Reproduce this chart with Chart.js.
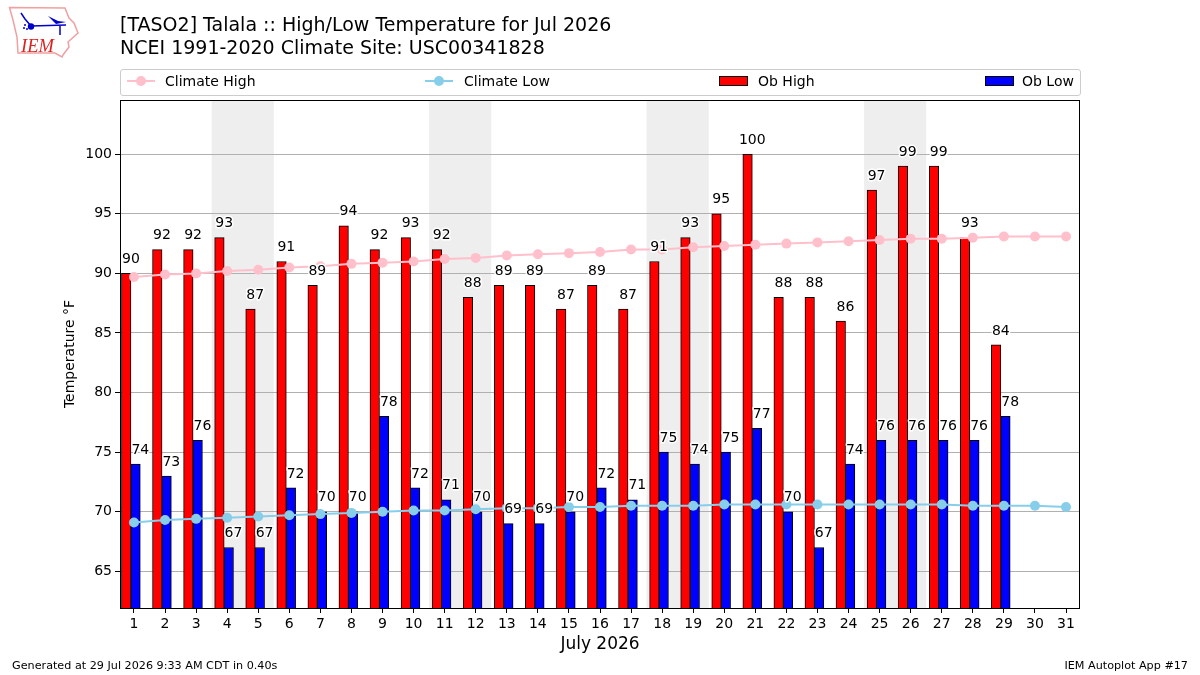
<!DOCTYPE html>
<html>
<head>
<meta charset="utf-8">
<title>TASO2 High/Low Temperature</title>
<script src="https://cdn.jsdelivr.net/npm/chart.js@4"></script>
<style>
    html, body { margin: 0; padding: 0; background: #fff; }
    body { width: 1200px; height: 675px; position: relative; overflow: hidden; font-family: "DejaVu Sans", sans-serif; color: #000; }
    canvas { position: absolute; left: 0; top: 0; }
    .title { position: absolute; left: 120px; top: 13px; font-size: 19px; line-height: 23px; white-space: nowrap; }
    .foot { position: absolute; top: 659px; font-size: 11.2px; line-height: 13px; white-space: nowrap; }
    .logo { position: absolute; left: 0; top: 0; }
    #legend { position: absolute; left: 120px; top: 69px; width: 959px; height: 25px; border: 1px solid #ccc; border-radius: 3px; box-sizing: content-box; font-size: 14px; }
    #legend span { position: absolute; top: 3px; line-height: 17px; white-space: nowrap; }
    #legend svg { position: absolute; top: 4px; }
</style>
</head>
<body>
<canvas id="tempChart" width="1200" height="675"></canvas>

<!-- IEM logo -->
<svg class="logo" width="90" height="60">
    <path d="M9.5 7.5 L65 8 L69 18 L74 23 L78 33 L68 42 L69 47 L63 55 L62 57 L55 53 L18 53 L17 37 L13 20 Z" fill="#fff" stroke="#f0a0a0" stroke-width="1.5"/>
    <path d="M31 26 L66 25 M21 13 L25 19 L31 26 M60 25 L60 35" fill="none" stroke="#0000cc" stroke-width="1.5"/>
    <path d="M48 16 L58 21 L66 22 L56 24 Z" fill="#0000cc"/>
    <circle cx="31" cy="26.5" r="3.2" fill="#0000cc"/>
    <circle cx="24" cy="28" r="1" fill="#0000cc"/>
    <circle cx="27" cy="29" r="1" fill="#0000cc"/>
    <circle cx="25" cy="25" r="1" fill="#0000cc"/>
    <text x="21" y="52" font-family="Liberation Serif" font-style="italic" font-size="18.5" fill="#d22">IEM</text>
</svg>

<div class="title">[TASO2] Talala :: High/Low Temperature for Jul 2026<br>NCEI 1991-2020 Climate Site: USC00341828</div>
<div id="legend"></div>
<div class="foot" style="left:12px">Generated at 29 Jul 2026 9:33 AM CDT in 0.40s</div>
<div class="foot" style="right:12px">IEM Autoplot App #17</div>

<script>
// Days of the month and the observed / climatology series
const days = [1, 2, 3, 4, 5, 6, 7, 8, 9, 10, 11, 12, 13, 14, 15, 16, 17, 18, 19, 20, 21, 22, 23, 24, 25, 26, 27, 28, 29, 30, 31];
const obHigh = [90, 92, 92, 93, 87, 91, 89, 94, 92, 93, 92, 88, 89, 89, 87, 89, 87, 91, 93, 95, 100, 88, 88, 86, 97, 99, 99, 93, 84];
const obLow = [74, 73, 76, 67, 67, 72, 70, 70, 78, 72, 71, 70, 69, 69, 70, 72, 71, 75, 74, 75, 77, 70, 67, 74, 76, 76, 76, 76, 78];
const climateHigh = [89.7, 89.9, 90.0, 90.2, 90.3, 90.5, 90.6, 90.8, 90.9, 91.0, 91.2, 91.3, 91.5, 91.6, 91.7, 91.8, 92.0, 92.0, 92.2, 92.3, 92.4, 92.5, 92.6, 92.7, 92.8, 92.9, 92.9, 93.0, 93.1, 93.1, 93.1];
const climateLow = [69.1, 69.3, 69.4, 69.5, 69.6, 69.7, 69.8, 69.9, 70.0, 70.1, 70.1, 70.2, 70.3, 70.3, 70.4, 70.4, 70.5, 70.5, 70.5, 70.6, 70.6, 70.6, 70.6, 70.6, 70.6, 70.6, 70.6, 70.5, 70.5, 70.5, 70.4];
const yTicks = [65, 70, 75, 80, 85, 90, 95, 100];
const weekends = [[3.5, 5.5], [10.5, 12.5], [17.5, 19.5], [24.5, 26.5]];

const FONT = "DejaVu Sans";

// Gray weekend bands, behind the grid
const weekendBands = {
    id: "weekendBands",
    beforeDraw(chart) {
        const { ctx, chartArea, scales } = chart;
        ctx.save();
        ctx.fillStyle = "#eeeeee";
        weekends.forEach(([a, b]) => {
            const x0 = scales.x.getPixelForValue(a);
            const x1 = scales.x.getPixelForValue(b);
            ctx.fillRect(x0, chartArea.top, x1 - x0, chartArea.bottom - chartArea.top);
        });
        ctx.restore();
    }
};

// Value labels above each bar with a white halo, plus the axes frame
const barLabels = {
    id: "barLabels",
    afterDatasetsDraw(chart) {
        const { ctx, chartArea } = chart;
        ctx.save();
        ctx.strokeStyle = "#000";
        ctx.lineWidth = 1;
        ctx.strokeRect(chartArea.left + 0.5, chartArea.top + 0.5, chartArea.right - chartArea.left - 1, chartArea.bottom - chartArea.top);
        ctx.font = "14px '" + FONT + "'";
        ctx.textAlign = "center";
        ctx.textBaseline = "middle";
        ctx.lineJoin = "round";
        chart.data.datasets.forEach((ds, i) => {
            if (ds.type !== "bar") return;
            chart.getDatasetMeta(i).data.forEach((bar, j) => {
                const x = bar.x + bar.width / 2;
                const y = bar.y - 14;
                const text = String(ds.data[j].y);
                ctx.strokeStyle = "#fff";
                ctx.lineWidth = 3;
                ctx.strokeText(text, x, y);
                ctx.fillStyle = "#000";
                ctx.fillText(text, x, y);
            });
        });
        ctx.restore();
    }
};

const chart = new Chart(document.getElementById("tempChart"), {
    data: {
        datasets: [
            {
                type: "line",
                label: "Climate High",
                data: days.map((d, i) => ({ x: d, y: climateHigh[i] })),
                borderColor: "#ffc0cb",
                backgroundColor: "#ffc0cb",
                borderWidth: 2,
                pointRadius: 5,
                pointBorderWidth: 0,
                tension: 0,
                order: 1
            },
            {
                type: "line",
                label: "Climate Low",
                data: days.map((d, i) => ({ x: d, y: climateLow[i] })),
                borderColor: "#87ceeb",
                backgroundColor: "#87ceeb",
                borderWidth: 2,
                pointRadius: 5,
                pointBorderWidth: 0,
                tension: 0,
                order: 1
            },
            {
                type: "bar",
                label: "Ob High",
                data: obHigh.map((v, i) => ({ x: days[i] - 0.25, y: v })),
                backgroundColor: "#ff0000",
                borderColor: "#000",
                borderWidth: 1,
                barThickness: 9.5,
                grouped: false,
                order: 2
            },
            {
                type: "bar",
                label: "Ob Low",
                data: obLow.map((v, i) => ({ x: days[i] + 0.05, y: v })),
                backgroundColor: "#0000ff",
                borderColor: "#000",
                borderWidth: 1,
                barThickness: 9.5,
                grouped: false,
                order: 2
            }
        ]
    },
    options: {
        responsive: false,
        animation: false,
        layout: { padding: { left: 0, top: 100, right: 120, bottom: 0 } },
        plugins: {
            legend: { display: false },
            title: { display: false },
            tooltip: { enabled: false }
        },
        scales: {
            x: {
                type: "linear",
                offset: false,
                min: 0.55,
                max: 31.45,
                afterFit: s => { s.height = 67; },
                afterBuildTicks: s => { s.ticks = days.map(d => ({ value: d })); },
                grid: { display: true, offset: false, drawOnChartArea: false, drawTicks: true, tickColor: "#000", tickLength: 5 },
                border: { display: false },
                ticks: {
                    color: "#000",
                    font: { family: FONT, size: 14 },
                    padding: 3,
                    maxRotation: 0,
                    autoSkip: false,
                    callback: v => String(v)
                },
                title: {
                    display: true,
                    text: "July 2026",
                    color: "#000",
                    font: { family: FONT, size: 17 },
                    padding: { top: 4, bottom: 20 }
                }
            },
            y: {
                min: 61.92,
                max: 104.55,
                afterFit: s => { s.width = 120; },
                afterBuildTicks: s => { s.ticks = yTicks.map(v => ({ value: v })); },
                grid: { color: "#b0b0b0", lineWidth: 1, tickColor: "#000", tickLength: 5 },
                border: { display: false },
                ticks: {
                    color: "#000",
                    font: { family: FONT, size: 14 },
                    padding: 3,
                    callback: v => String(v)
                },
                title: {
                    display: true,
                    text: "Temperature °F",
                    color: "#000",
                    font: { family: FONT, size: 14 },
                    padding: { top: 62, bottom: 0 }
                }
            }
        }
    },
    plugins: [weekendBands, barLabels]
});

// Legend row spread across the axes width
const legendX = [
    { mark: 6, text: 44 },
    { mark: 304, text: 343 },
    { mark: 598, text: 637 },
    { mark: 864, text: 901 }
];
const legendEl = document.getElementById("legend");
chart.data.datasets.forEach((ds, i) => {
    const pos = legendX[i];
    const isLine = ds.type === "line";
    const mark = isLine
        ? `<svg width="30" height="14" style="left:${pos.mark}px"><line x1="0" y1="7" x2="28" y2="7" stroke="${ds.borderColor}" stroke-width="2"/><circle cx="14" cy="7" r="5" fill="${ds.backgroundColor}"/></svg>`
        : `<svg width="30" height="14" style="left:${pos.mark}px"><rect x="0.5" y="2.5" width="28" height="9" fill="${ds.backgroundColor}" stroke="#000"/></svg>`;
    legendEl.innerHTML += mark + `<span style="left:${pos.text}px">${ds.label}</span>`;
});
</script>
</body>
</html>
